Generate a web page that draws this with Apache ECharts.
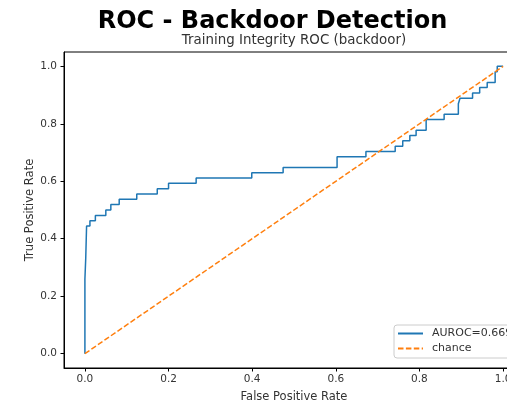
<!DOCTYPE html>
<html>
<head>
<meta charset="utf-8">
<script src="https://cdn.jsdelivr.net/npm/echarts@6/dist/echarts.min.js"></script>
<style>
html,body{margin:0;padding:0;background:#fff;}
#chart{width:507px;height:404px;}
</style>
</head>
<body>
<div id="chart"></div>
<script>
const titleText = "ROC - Backdoor Detection";
const subTitleText = "Training Integrity ROC (backdoor)";
const xLabel = "False Positive Rate";
const yLabel = "True Positive Rate";
const tickValues = [0, 0.2, 0.4, 0.6, 0.8, 1.0];
const aurocLabel = "AUROC=0.669";
const chanceLabel = "chance";

const rocFpr = [0, 0, 0.002, 0.002, 0.004, 0.004, 0.012, 0.012, 0.025, 0.025, 0.050, 0.050, 0.062, 0.062, 0.082, 0.082, 0.124, 0.124, 0.173, 0.173, 0.200, 0.200, 0.266, 0.266, 0.399, 0.399, 0.474, 0.474, 0.603, 0.603, 0.672, 0.672, 0.742, 0.742, 0.760, 0.760, 0.777, 0.777, 0.792, 0.792, 0.816, 0.816, 0.859, 0.859, 0.893, 0.893, 0.897, 0.897, 0.927, 0.927, 0.944, 0.944, 0.962, 0.962, 0.981, 0.981, 0.986, 0.986, 1.0];
const rocTpr = [0, 0.259, 0.259, 0.333, 0.333, 0.444, 0.444, 0.463, 0.463, 0.481, 0.481, 0.500, 0.500, 0.519, 0.519, 0.537, 0.537, 0.556, 0.556, 0.574, 0.574, 0.593, 0.593, 0.611, 0.611, 0.630, 0.630, 0.648, 0.648, 0.685, 0.685, 0.704, 0.704, 0.722, 0.722, 0.741, 0.741, 0.759, 0.759, 0.778, 0.778, 0.815, 0.815, 0.833, 0.833, 0.870, 0.870, 0.889, 0.889, 0.907, 0.907, 0.926, 0.926, 0.944, 0.944, 0.981, 0.981, 1.0, 1.0];
const chanceX = [0, 1];
const chanceY = [0, 1];

const font = "DejaVu Sans";
const chart = echarts.init(document.getElementById('chart'), null, {renderer: 'canvas'});
const axisCommon = {
  type: 'value', min: -0.05, max: 1.05,
  splitLine: {show: false},
  axisLine: {show: true, onZero: false, lineStyle: {color: '#000', width: 1}},
  axisTick: {show: true, length: 3.5, lineStyle: {color: '#000'}, customValues: tickValues},
  axisLabel: {customValues: tickValues, formatter: v => v.toFixed(1), color: '#333', fontSize: 10.5, fontFamily: font},
  nameLocation: 'middle',
  nameMoveOverlap: false,
  nameTextStyle: {color: '#333', fontSize: 11.5, fontFamily: font}
};
chart.setOption({
  animation: false,
  backgroundColor: '#fff',
  title: [
    {text: titleText, left: 272.5, top: 10, padding: 0, textAlign: 'center',
     textStyle: {fontFamily: font, fontWeight: 'bold', fontSize: 24, color: '#000'}},
    {text: subTitleText, left: 294, top: 34, padding: 0, textAlign: 'center',
     textStyle: {fontFamily: font, fontWeight: 'normal', fontSize: 13.4, color: '#333'}}
  ],
  grid: {left: 64, top: 52, width: 460, height: 316, outerBoundsMode: 'none', show: true, borderColor: '#000', borderWidth: 1, containLabel: false},
  xAxis: Object.assign({}, axisCommon, {name: xLabel, nameGap: 23, axisLabel: Object.assign({}, axisCommon.axisLabel, {margin: 6})}),
  yAxis: Object.assign({}, axisCommon, {name: yLabel, nameGap: 28, axisLabel: Object.assign({}, axisCommon.axisLabel, {margin: 7})}),
  legend: {
    orient: 'vertical', left: 394, top: 325,
    padding: [3, 30, 4, 3], itemGap: 4, itemWidth: 25, itemHeight: 12,
    borderColor: '#ccc', borderWidth: 1, borderRadius: 3, backgroundColor: 'rgba(255,255,255,0.8)',
    itemStyle: {opacity: 0},
    textStyle: {fontFamily: font, fontSize: 11, color: '#333', padding: [0, 0, 0, 4]},
    data: [aurocLabel, chanceLabel]
  },
  series: [
    {name: aurocLabel, type: 'line', symbol: 'none', showSymbol: false,
     data: rocFpr.map((x, i) => [x, rocTpr[i]]),
     lineStyle: {color: '#1f77b4', width: 1.5}, itemStyle: {color: '#1f77b4'}},
    {name: chanceLabel, type: 'line', symbol: 'none', showSymbol: false,
     data: chanceX.map((x, i) => [x, chanceY[i]]),
     lineStyle: {color: '#ff7f0e', width: 1.5, type: [5.5, 2.4]}, itemStyle: {color: '#ff7f0e'}}
  ]
});
</script>
</body>
</html>
